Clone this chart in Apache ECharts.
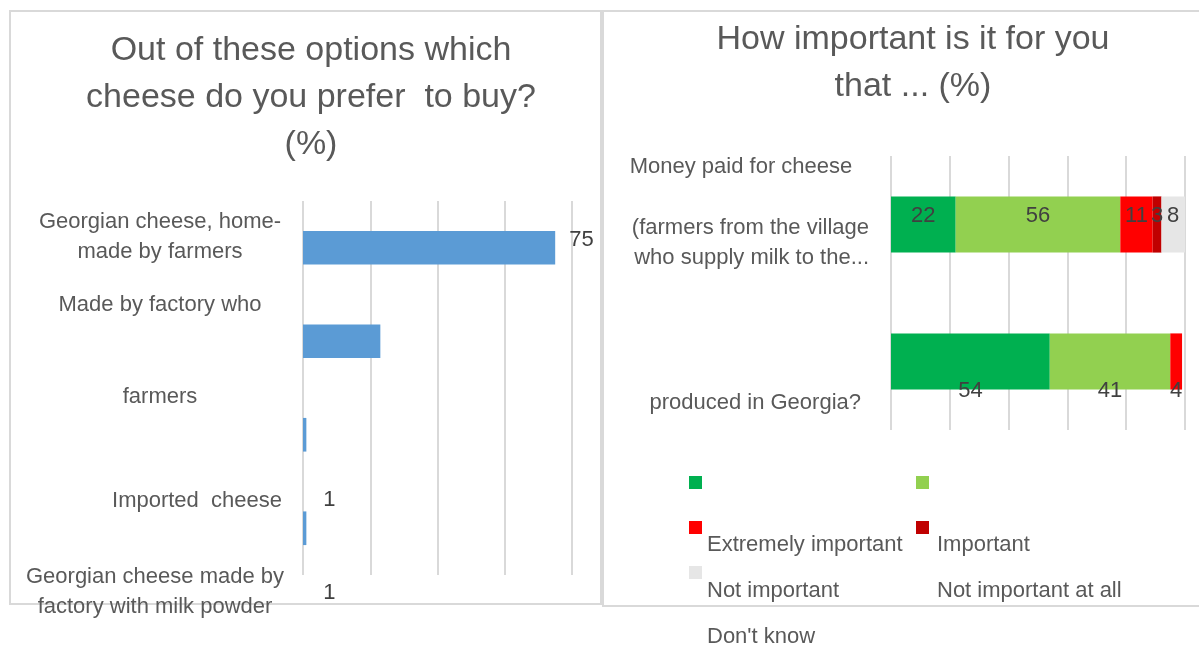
<!DOCTYPE html>
<html><head><meta charset="utf-8">
<script src="https://cdn.jsdelivr.net/npm/echarts@6/dist/echarts.min.js"></script>
<style>html,body{margin:0;padding:0;background:#fff}#c{width:1199px;height:649px}</style>
</head><body><div id="c"></div>
<script>
// ---- data ----
const leftCategories = ['Georgian cheese, home-made by farmers', 'Made by factory who ... farmers', 'Imported cheese', 'Georgian cheese made by factory with milk powder'];
const leftValues = [75, 23, 1, 1];
const rightCategories = ['Money paid for cheese (farmers from the village who supply milk to the...', '...produced in Georgia?'];
const seriesNames = ['Extremely important', 'Important', 'Not important', 'Not important at all', "Don't know"];
const extremelyImportant = [22, 54];
const important = [56, 41];
const notImportant = [11, 4];
const notImportantAtAll = [3, 0];
const dontKnow = [8, 0];
const leftTitle = 'Out of these options which\ncheese do you prefer  to buy?\n(%)';
const rightTitle = 'How important is it for you\nthat ... (%)';

// ---- styles ----
const FONT = '"Liberation Sans", Arial, sans-serif';
const TXT = '#595959';
const VAL = '#404040';
const GRID = '#D9D9D9';
const colors = ['#00B050', '#92D050', '#FF0000', '#C00000', '#E6E6E6'];
const rightValues = [extremelyImportant, important, notImportant, notImportantAtAll, dontKnow];

const chart = echarts.init(document.getElementById('c'), null, {renderer: 'canvas'});

function lbl(text, x, y, align) {
  return {type: 'text', x: x, y: y, silent: true,
    style: {text: text, textAlign: align, textVerticalAlign: 'middle', fontSize: 22, lineHeight: 30,
      fontFamily: FONT, fill: TXT}};
}

const leftData = leftValues.map((v, i) => {
  let label;
  if (i === 0) label = {show: true, position: 'right', distance: 14, offset: [0, -8]};
  else if (i === 1) label = {show: false};
  else label = {show: true, position: 'right', distance: 17, offset: [0, 65]};
  return {value: v, label: label};
});

const rightSeries = seriesNames.map((name, s) => ({
  type: 'bar', name: name, stack: 'imp', xAxisIndex: 1, yAxisIndex: 1,
  barCategoryGap: '59%',
  itemStyle: {color: colors[s]},
  data: rightValues[s].map((v, i) => ({
    value: v,
    label: {show: v > 0, position: 'inside', offset: [0, i === 0 ? -9 : 29]}
  })),
  label: {fontSize: 22, color: VAL, fontFamily: FONT}
}));

const iconLegend = (names, left) => ({
  data: names, orient: 'vertical', left: left, top: 476, padding: 0, height: 160,
  itemWidth: 13, itemHeight: 13, itemGap: 32, icon: 'rect', formatter: () => '',
  textStyle: {fontSize: 10, lineHeight: 13}, selectedMode: false
});
const textLegend = (names, left) => ({
  data: names, orient: 'vertical', left: left, top: 534, padding: 0, height: 140,
  itemWidth: 1, itemHeight: 1, itemGap: 24, icon: 'none', selectedMode: false,
  textStyle: {fontSize: 22, lineHeight: 22, color: TXT, fontFamily: FONT}
});

const option = {
  animation: false,
  backgroundColor: '#fff',
  textStyle: {fontFamily: FONT},
  title: [
    {text: leftTitle, left: 306, top: 22, textAlign: 'center',
      textStyle: {fontSize: 34, lineHeight: 47, fontWeight: 'normal', color: TXT, fontFamily: FONT}},
    {text: rightTitle, left: 908, top: 11, textAlign: 'center',
      textStyle: {fontSize: 34, lineHeight: 47, fontWeight: 'normal', color: TXT, fontFamily: FONT}}
  ],
  legend: [
    iconLegend([seriesNames[0], seriesNames[2], seriesNames[4]], 689),
    iconLegend([seriesNames[1], seriesNames[3]], 916),
    textLegend([seriesNames[0], seriesNames[2], seriesNames[4]], 701),
    textLegend([seriesNames[1], seriesNames[3]], 931)
  ],
  grid: [
    {left: 303, top: 201, width: 269, height: 374},
    {left: 891, top: 156, width: 294, height: 274}
  ],
  xAxis: [
    {type: 'value', gridIndex: 0, min: 0, max: 80, interval: 20,
      axisLabel: {show: false}, axisLine: {show: false}, axisTick: {show: false},
      splitLine: {show: true, lineStyle: {color: GRID, width: 2}}},
    {type: 'value', gridIndex: 1, min: 0, max: 100, interval: 20,
      axisLabel: {show: false}, axisLine: {show: false}, axisTick: {show: false},
      splitLine: {show: true, lineStyle: {color: GRID, width: 2}}}
  ],
  yAxis: [
    {type: 'category', gridIndex: 0, data: leftCategories, inverse: true,
      axisLabel: {show: false}, axisLine: {show: false}, axisTick: {show: false}},
    {type: 'category', gridIndex: 1, data: rightCategories, inverse: true,
      axisLabel: {show: false}, axisLine: {show: false}, axisTick: {show: false}}
  ],
  series: [
    {type: 'bar', name: 'Preference', xAxisIndex: 0, yAxisIndex: 0, barCategoryGap: '64%',
      itemStyle: {color: '#5B9BD5'},
      label: {fontSize: 22, color: VAL, fontFamily: FONT},
      data: leftData}
  ].concat(rightSeries),
  graphic: [
    {type: 'rect', shape: {x: 10, y: 11, width: 591, height: 593}, silent: true,
      style: {fill: 'none', stroke: GRID, lineWidth: 2}},
    {type: 'rect', shape: {x: 603, y: 11, width: 610, height: 595}, silent: true,
      style: {fill: 'none', stroke: GRID, lineWidth: 2}},
    lbl('Georgian cheese, home-\nmade by farmers', 160, 237, 'center'),
    lbl('Made by factory who', 160, 305, 'center'),
    lbl('farmers', 160, 397, 'center'),
    lbl('Imported  cheese', 282, 501, 'right'),
    lbl('Georgian cheese made by\nfactory with milk powder', 155, 592, 'center'),
    lbl('Money paid for cheese', 741, 167, 'center'),
    lbl('(farmers from the village\nwho supply milk to the...', 869, 243, 'right'),
    lbl('produced in Georgia?', 861, 403, 'right')
  ]
};
chart.setOption(option);
</script>
</body></html>
